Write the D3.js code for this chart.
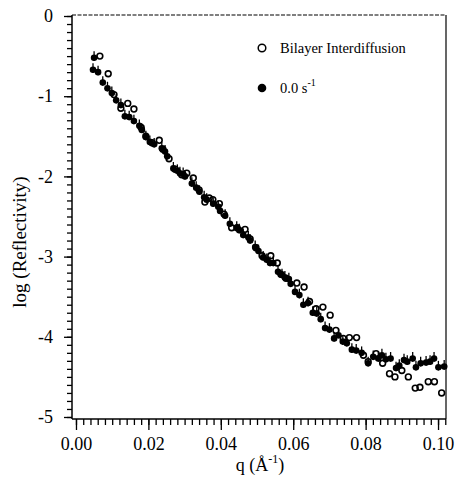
<!DOCTYPE html>
<html>
<head>
<meta charset="utf-8">
<script src="https://cdn.jsdelivr.net/npm/d3@7"></script>
<style>
  body { margin: 0; background: #fff; }
  svg { display: block; font-family: "Liberation Serif", "DejaVu Serif", serif; }
</style>
</head>
<body>
<svg id="chart" width="457" height="477"></svg>
<script>
"use strict";
// filled circles: 0.0 s^-1
var qFilled = [0.0047,0.0050,0.0061,0.0074,0.0087,0.0099,0.0111,0.0124,0.0135,0.0147,0.0160,0.0175,0.0182,0.0193,0.0204,0.0216,0.0237,0.0246,0.0252,0.0269,0.0280,0.0287,0.0296,0.0301,0.0320,0.0332,0.0341,0.0354,0.0361,0.0379,0.0393,0.0398,0.0412,0.0425,0.0444,0.0451,0.0462,0.0476,0.0481,0.0495,0.0504,0.0517,0.0527,0.0536,0.0545,0.0558,0.0569,0.0577,0.0588,0.0593,0.0605,0.0617,0.0628,0.0641,0.0654,0.0665,0.0676,0.0688,0.0700,0.0713,0.0725,0.0737,0.0748,0.0762,0.0774,0.0789,0.0807,0.0821,0.0835,0.0845,0.0856,0.0869,0.0884,0.0893,0.0906,0.0915,0.0930,0.0939,0.0952,0.0967,0.0978,0.0989,0.1001,0.1017];
var logFilled = [-0.67,-0.52,-0.70,-0.83,-0.90,-0.96,-1.05,-1.11,-1.25,-1.26,-1.31,-1.37,-1.42,-1.51,-1.57,-1.60,-1.65,-1.69,-1.75,-1.90,-1.93,-1.96,-1.97,-2.00,-2.09,-2.14,-2.19,-2.26,-2.29,-2.34,-2.38,-2.43,-2.49,-2.59,-2.64,-2.67,-2.73,-2.76,-2.80,-2.88,-2.93,-3.01,-3.04,-3.08,-3.08,-3.19,-3.23,-3.26,-3.28,-3.34,-3.44,-3.48,-3.60,-3.58,-3.70,-3.71,-3.78,-3.89,-3.91,-4.02,-3.98,-4.06,-4.08,-4.16,-4.17,-4.20,-4.33,-4.25,-4.27,-4.23,-4.28,-4.27,-4.39,-4.36,-4.29,-4.31,-4.27,-4.38,-4.33,-4.32,-4.31,-4.27,-4.38,-4.37];
// open circles: Bilayer Interdiffusion
var qOpen = [0.0066,0.0089,0.0105,0.0124,0.0143,0.0160,0.0180,0.0193,0.0210,0.0230,0.0240,0.0257,0.0274,0.0292,0.0306,0.0324,0.0340,0.0356,0.0368,0.0378,0.0396,0.0409,0.0430,0.0445,0.0467,0.0481,0.0497,0.0514,0.0538,0.0556,0.0566,0.0580,0.0610,0.0630,0.0645,0.0663,0.0682,0.0702,0.0718,0.0738,0.0755,0.0775,0.0794,0.0807,0.0829,0.0847,0.0866,0.0881,0.0900,0.0918,0.0937,0.0950,0.0973,0.0990,0.1010];
var logOpen = [-0.50,-0.72,-0.98,-1.15,-1.09,-1.16,-1.39,-1.50,-1.58,-1.55,-1.66,-1.78,-1.91,-1.98,-1.96,-2.02,-2.17,-2.32,-2.27,-2.29,-2.34,-2.47,-2.64,-2.64,-2.66,-2.78,-2.89,-2.99,-2.99,-3.08,-3.22,-3.27,-3.33,-3.38,-3.56,-3.65,-3.63,-3.73,-3.92,-4.02,-4.01,-4.01,-4.23,-4.31,-4.21,-4.33,-4.46,-4.50,-4.42,-4.50,-4.64,-4.63,-4.56,-4.56,-4.70];
var errFilled = 0.04;

var xMajor = [0, 0.02, 0.04, 0.06, 0.08, 0.10];
var xMajorLabels = ["0.00", "0.02", "0.04", "0.06", "0.08", "0.10"];
var yMajor = [0, -1, -2, -3, -4, -5];
var yMajorLabels = ["0", "-1", "-2", "-3", "-4", "-5"];
var xMinor = d3.range(0, 0.1021, 0.002);
var yMinor = d3.range(-50, 1, 1).map(function(d){ return d / 10; });

var pLeft = 72, pRight = 446, pTop = 15, pBottom = 419;
var svg = d3.select("#chart");

var x = d3.scaleLinear().domain([-0.0011, 0.1022]).range([pLeft, pRight]);
var y = d3.scaleLinear().domain([-5.025, 0.0125]).range([pBottom, pTop]);

// axes: minor ticks
svg.append("g")
	.attr("transform", "translate(0," + pBottom + ")")
	.call(d3.axisBottom(x).tickValues(xMinor).tickSize(6).tickFormat(""))
	.call(function(g){ g.select(".domain").remove(); });
svg.append("g")
	.attr("transform", "translate(" + pLeft + ",0)")
	.call(d3.axisLeft(y).tickValues(yMinor).tickSize(5).tickFormat(""))
	.call(function(g){ g.select(".domain").remove(); });

// axes: major ticks with labels
var xAxis = svg.append("g")
	.attr("transform", "translate(0," + pBottom + ")")
	.call(d3.axisBottom(x).tickValues(xMajor).tickSize(11).tickPadding(7)
		.tickFormat(function(d, i){ return xMajorLabels[i]; }));
var yAxis = svg.append("g")
	.attr("transform", "translate(" + pLeft + ",0)")
	.call(d3.axisLeft(y).tickValues(yMajor).tickSize(8).tickPadding(11)
		.tickFormat(function(d, i){ return yMajorLabels[i]; }));
[xAxis, yAxis].forEach(function(g){
	g.select(".domain").remove();
	g.selectAll("text").attr("font-size", 18).attr("font-family", "Liberation Serif").attr("fill", "#000");
});
svg.selectAll(".tick line").attr("stroke", "#000").attr("stroke-width", 1.3);

// frame
svg.append("line").attr("x1", pLeft).attr("x2", pLeft).attr("y1", pTop).attr("y2", pBottom)
	.attr("stroke", "#000").attr("stroke-width", 1.5);
svg.append("line").attr("x1", pLeft).attr("x2", pRight).attr("y1", pBottom).attr("y2", pBottom)
	.attr("stroke", "#000").attr("stroke-width", 1.5);
svg.append("line").attr("x1", pRight).attr("x2", pRight).attr("y1", pTop).attr("y2", pBottom)
	.attr("stroke", "#000").attr("stroke-width", 1.2);
svg.append("line").attr("x1", pLeft).attr("x2", pRight).attr("y1", pTop).attr("y2", pTop)
	.attr("stroke", "#000").attr("stroke-width", 1.2).attr("stroke-dasharray", "4,1.5");

// filled series with small error bars
var filled = qFilled.map(function(q, i){ return [q, logFilled[i]]; });
var open = qOpen.map(function(q, i){ return [q, logOpen[i]]; });

svg.append("g").selectAll("line")
	.data(filled).enter().append("line")
	.attr("x1", function(d){ return x(d[0]); })
	.attr("x2", function(d){ return x(d[0]); })
	.attr("y1", function(d){ return y(d[1] + errFilled + 0.04); })
	.attr("y2", function(d){ return y(d[1] - errFilled); })
	.attr("stroke", "#000").attr("stroke-width", 1.3);

svg.append("g").selectAll("circle")
	.data(filled).enter().append("circle")
	.attr("cx", function(d){ return x(d[0]); })
	.attr("cy", function(d){ return y(d[1]); })
	.attr("r", 3.3)
	.attr("fill", "#000");

svg.append("g").selectAll("circle")
	.data(open).enter().append("circle")
	.attr("cx", function(d){ return x(d[0]); })
	.attr("cy", function(d){ return y(d[1]); })
	.attr("r", 2.9)
	.attr("fill", "none")
	.attr("stroke", "#000")
	.attr("stroke-width", 1.6);

// legend
svg.append("circle").attr("cx", 262).attr("cy", 48).attr("r", 3.8)
	.attr("fill", "none").attr("stroke", "#000").attr("stroke-width", 1.5);
svg.append("text").attr("x", 280).attr("y", 53).attr("font-size", 14.5)
	.text("Bilayer Interdiffusion");
svg.append("circle").attr("cx", 262).attr("cy", 88).attr("r", 4.3).attr("fill", "#000");
var lg = svg.append("text").attr("x", 280).attr("y", 93).attr("font-size", 14.5);
lg.append("tspan").text("0.0 s");
lg.append("tspan").attr("dy", -7).attr("font-size", 10).text("-1");

// axis titles
var xt = svg.append("text").attr("x", 260).attr("y", 471).attr("text-anchor", "middle").attr("font-size", 18);
xt.append("tspan").text("q (\u00C5");
xt.append("tspan").attr("dy", -8).attr("font-size", 12).text("-1");
xt.append("tspan").attr("dy", 8).text(")");

svg.append("text")
	.attr("transform", "translate(26,242) rotate(-90)")
	.attr("text-anchor", "middle")
	.attr("font-size", 19)
	.text("log  (Reflectivity)");
</script>
</body>
</html>
